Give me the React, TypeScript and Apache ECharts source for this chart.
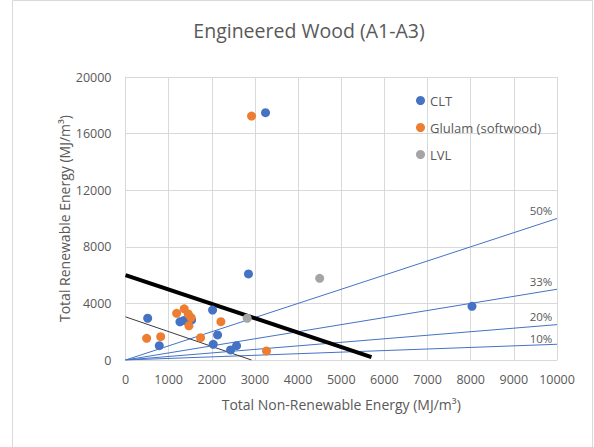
import React, { useEffect, useRef } from "react";
import * as echarts from "echarts";

const cltData: [number, number][] = [
  [514, 2950], [783, 1010], [1262, 2700], [1355, 2800], [1532, 2830],
  [2018, 3530], [2134, 1770], [2033, 1110], [2435, 710], [2574, 1010],
  [2850, 6080], [3245, 17480], [8030, 3790],
];
const glulamData: [number, number][] = [
  [490, 1530], [815, 1650], [1185, 3300], [1360, 3620], [1455, 3250],
  [1520, 3000], [1470, 2420], [1740, 1580], [2211, 2710], [3268, 640],
  [2921, 17240],
];
const lvlData: [number, number][] = [
  [2820, 2950], [4500, 5770],
];
const ratioLines: { name: string; end: [number, number] }[] = [
  { name: "50%", end: [10000, 10000] },
  { name: "33%", end: [10000, 5000] },
  { name: "20%", end: [10000, 2500] },
  { name: "10%", end: [10000, 1111] },
];
const thickLine: [number, number][] = [[0, 6000], [5700, 200]];
const thinLine: [number, number][] = [[0, 3050], [2920, 0]];

const FONT = "'Open Sans', sans-serif";
const GREY = "#595959";

export default function App() {
  const ref = useRef<HTMLDivElement>(null);
  useEffect(() => {
    const chart = echarts.init(ref.current!, null, { renderer: "svg" });
    const ratioSeries = ratioLines.map((r) => ({
      type: "line",
      name: r.name,
      data: [[0, 0], r.end],
      symbol: "none",
      showSymbol: false,
      lineStyle: { color: "#4472C4", width: 1 },
      endLabel: {
        show: true,
        formatter: r.name,
        align: "center",
        verticalAlign: "bottom",
        distance: 0,
        offset: [-16, r.name === "10%" ? 0 : -2],
        color: GREY,
        fontFamily: FONT,
        fontSize: 11.5,
      },
      silent: true,
      z: 1,
    }));
    chart.setOption({
      animation: false,
      textStyle: { fontFamily: FONT },
      title: {
        text: "Engineered Wood (A1-A3)",
        left: 304,
        textAlign: "center",
        top: 15,
        textStyle: { fontFamily: FONT, fontSize: 19.5, fontWeight: "normal", color: GREY },
      },
      graphic: [
        {
          type: "rect",
          shape: { x: 12.5, y: 0.5, width: 580, height: 470 },
          style: { fill: "none", stroke: "#D9D9D9", lineWidth: 1 },
          silent: true,
        },
      ],
      legend: {
        orient: "vertical",
        left: 411,
        top: 87,
        itemWidth: 9,
        itemHeight: 9,
        itemGap: 10,
        itemTextGap: 5,
        icon: "circle",
        data: ["CLT", "Glulam (softwood)", "LVL"],
        textStyle: { color: GREY, fontFamily: FONT, fontSize: 13, lineHeight: 17 },
      },
      grid: { left: 125.5, right: 37, top: 77, bottom: 87 },
      xAxis: {
        type: "value",
        min: 0,
        max: 10000,
        interval: 1000,
        name: "Total Non-Renewable Energy (MJ/m³)",
        nameLocation: "middle",
        nameGap: 37,
        nameTextStyle: { color: GREY, fontFamily: FONT, fontSize: 14 },
        axisLine: { show: true, lineStyle: { color: "#D9D9D9" } },
        axisTick: { show: false },
        axisLabel: { color: GREY, fontFamily: FONT, fontSize: 12.5, margin: 13, formatter: (v: number) => String(v) },
        splitLine: { show: true, lineStyle: { color: "#D9D9D9" } },
      },
      yAxis: {
        type: "value",
        min: 0,
        max: 20000,
        interval: 4000,
        name: "Total Renewable Energy (MJ/m³)",
        nameLocation: "middle",
        nameGap: 54,
        nameMoveOverlap: false,
        nameTextStyle: { color: GREY, fontFamily: FONT, fontSize: 14 },
        axisLine: { show: true, lineStyle: { color: "#D9D9D9" } },
        axisTick: { show: false },
        axisLabel: { color: GREY, fontFamily: FONT, fontSize: 12.5, margin: 14, formatter: (v: number) => String(v) },
        splitLine: { show: true, lineStyle: { color: "#D9D9D9" } },
      },
      series: [
        ...ratioSeries,
        {
          type: "line",
          name: "thick",
          data: thickLine,
          symbol: "none",
          lineStyle: { color: "#000000", width: 4 },
          silent: true,
          z: 3,
        },
        {
          type: "line",
          name: "thin",
          data: thinLine,
          symbol: "none",
          lineStyle: { color: "#3a3a3a", width: 1 },
          silent: true,
          z: 1,
        },
        {
          type: "scatter",
          name: "CLT",
          data: cltData,
          symbolSize: 9,
          itemStyle: { color: "#4472C4", opacity: 1 },
          z: 4,
        },
        {
          type: "scatter",
          name: "Glulam (softwood)",
          data: glulamData,
          symbolSize: 9,
          itemStyle: { color: "#ED7D31", opacity: 1 },
          z: 4,
        },
        {
          type: "scatter",
          name: "LVL",
          data: lvlData,
          symbolSize: 9,
          itemStyle: { color: "#A5A5A5", opacity: 1 },
          z: 4,
        },
      ],
    });
    return () => chart.dispose();
  }, []);
  return (
    <div
      ref={ref}
      style={{ position: "absolute", left: 0, top: 0, width: 594, height: 447, background: "#fff" }}
    />
  );
}
